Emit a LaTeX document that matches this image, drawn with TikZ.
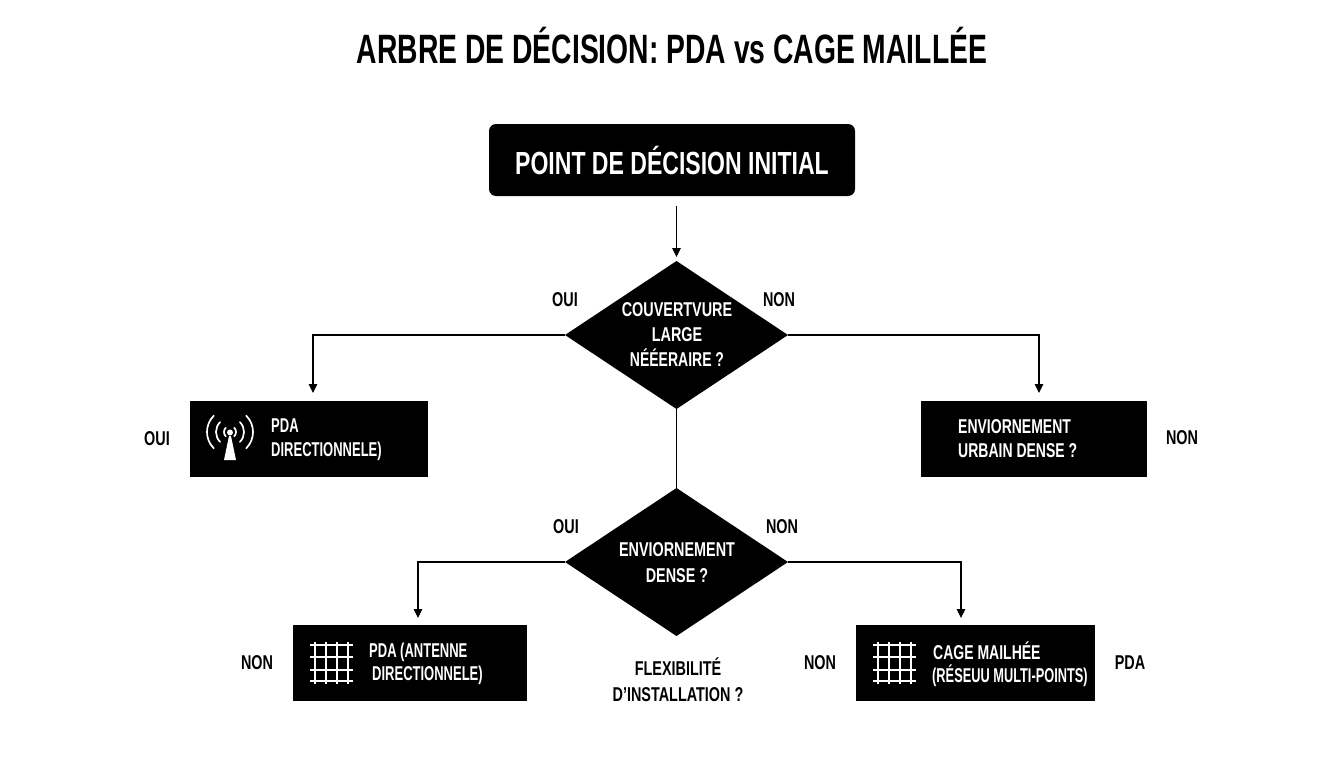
\documentclass[tikz,border=0pt]{standalone}
\usepackage{fontspec}
\setmainfont[FakeStretch=0.72]{Liberation Sans Bold}
\newfontfamily\fa[FakeStretch=0.70]{Liberation Sans Bold}
\newfontfamily\fb[FakeStretch=0.65]{Liberation Sans Bold}
\newfontfamily\fc[FakeStretch=0.64]{Liberation Sans Bold}
\newfontfamily\ft[FakeStretch=0.69]{Liberation Sans Bold}
\usetikzlibrary{shapes.geometric,arrows.meta}
\newcommand{\fs}[1]{\fontsize{#1}{#1}\selectfont}
\tikzset{
  x=1pt,y=-1pt,
  blackbox/.style={fill=black,text=white,minimum height=76pt,inner sep=0pt,outer sep=0pt},
  choice/.style={diamond,fill=black,inner sep=0pt,outer sep=0pt,minimum width=223pt,minimum height=148pt},
  choicetext/.style={font=\fs{20},text=white,inner sep=0pt,align=center},
  lab/.style={font=\fs{20},text=black,inner sep=0pt},
  boxtext/.style={text=white,inner sep=0pt,align=left,anchor=west},
  link/.style={line width=1.2pt,black},
  arrowlink/.style={link,-{Triangle[length=9pt,width=8.5pt]}},
  icon/.style={white,line width=1.7pt},
}
\begin{document}
\begin{tikzpicture}
\useasboundingbox (0,0) rectangle (1344,768);
\fill[white] (0,0) rectangle (1344,768);
\node[font=\ft\fs{41},inner sep=0pt] (title) at (672,46) {ARBRE DE DÉCISION: PDA vs CAGE MAILLÉE};
\node[fill=black,text=white,rounded corners=7pt,minimum width=366pt,minimum height=72pt,inner sep=0pt,font=\fs{32}] (start) at (672,160) {POINT DE DÉCISION INITIAL};
\node[choice] (d1) at (676.5,335) {};
\node[choicetext] (d1t) at (677,335) {COUVERTVURE\\[5pt]LARGE\\[5pt]{\fa NÉÉERAIRE ?}};
\node[choice] (d2) at (676.5,562) {};
\node[choicetext] (d2t) at (677,563) {ENVIORNEMENT\\[6pt]DENSE ?};
\node[blackbox,minimum width=238pt] (b1) at (309,439) {};
\node[blackbox,minimum width=226pt] (b2) at (1034,439) {};
\node[blackbox,minimum width=234pt] (b3) at (410,663) {};
\node[blackbox,minimum width=239pt] (b4) at (975.5,663) {};
\node[boxtext,font=\fb\fs{20}] (t1) at (271,439.5) {PDA\\[4pt]DIRECTIONNELE)};
\node[boxtext,font=\fa\fs{20}] (t2) at (958,439) {ENVIORNEMENT\\[4pt]URBAIN DENSE ?};
\node[boxtext,font=\fb\fs{20}] (t3) at (369,664) {PDA (ANTENNE\\[3pt]\hspace*{3pt}DIRECTIONNELE)};
\node[boxtext,font=\fc\fs{20}] (t4) at (932,664) {\hspace*{1pt}{\fa CAGE MAILHÉE}\\[3pt](RÉSEUU MULTI-POINTS)};
\node[lab] (l1) at (565,300) {OUI};
\node[lab] (l2) at (779,300) {NON};
\node[lab] (l3) at (157,439) {OUI};
\node[lab] (l4) at (1182,438) {NON};
\node[lab] (l5) at (566,527) {OUI};
\node[lab] (l6) at (782,527) {NON};
\node[lab] (l7) at (257,663) {NON};
\node[lab] (l8) at (820,663) {NON};
\node[lab] (l9) at (1130,663) {PDA};
\node[lab,align=center] (l10) at (678,679.5) {FLEXIBILITÉ\\[6pt]D’INSTALLATION ?};
\coordinate (s0) at (676.5,206);
\coordinate (c1) at (313,335);
\coordinate (e1) at (313,393);
\coordinate (c2) at (1039,335);
\coordinate (e2) at (1039,393);
\coordinate (c3) at (418,562);
\coordinate (e3) at (418,618);
\coordinate (c4) at (961,562);
\coordinate (e4) at (961,618);
\draw[arrowlink] (s0) -- ([yshift=4pt]d1.north);
\draw[arrowlink] (d1.west) -- (c1) -- (e1);
\draw[arrowlink] (d1.east) -- (c2) -- (e2);
\draw[link] (d1.south) -- (d2.north);
\draw[arrowlink] (d2.west) -- (c3) -- (e3);
\draw[arrowlink] (d2.east) -- (c4) -- (e4);
% antenna icon
\fill[white] (224,460) -- (236,460) -- (231,436) -- (229,436) -- cycle;
\fill[white] (230,432.5) circle (3pt);
\foreach \r in {6,14,23}{
  \draw[icon,line cap=round] (230,432) ++(-45:\r) arc[start angle=-45,end angle=45,radius=\r];
  \draw[icon,line cap=round] (230,432) ++(135:\r) arc[start angle=135,end angle=225,radius=\r];
}
% grid icons
\foreach \ox in {310,873}{
  \foreach \dx in {5,16,27,38}{
    \draw[icon] (\ox+\dx,642) -- (\ox+\dx,684);
  }
  \foreach \yy in {645,657,670,681}{
    \draw[icon] (\ox,\yy) -- (\ox+43,\yy);
  }
}
\end{tikzpicture}
\end{document}
